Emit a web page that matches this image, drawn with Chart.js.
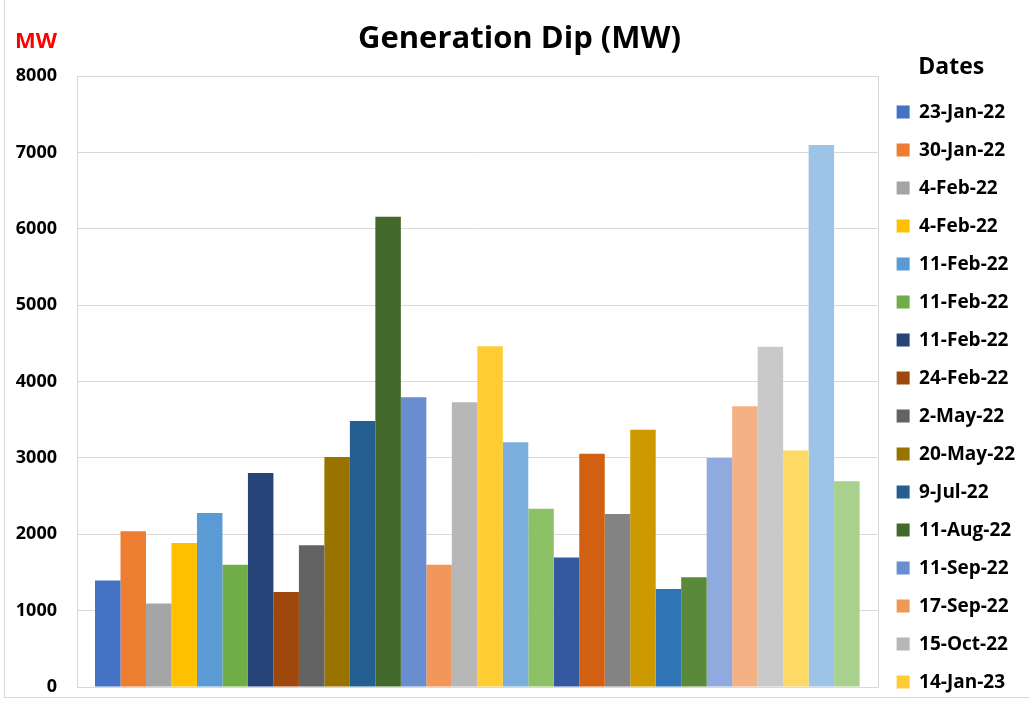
<!DOCTYPE html>
<html>
<head>
<meta charset="utf-8">
<script src="https://cdn.jsdelivr.net/npm/chart.js@4.4.1/dist/chart.umd.min.js"></script>
<style>
  html, body { margin: 0; padding: 0; background: #ffffff; }
  #wrap { position: relative; width: 1029px; height: 703px; }
  #c { display: block; }
  #frame { position: absolute; left: 4px; top: -2px; width: 1030px; height: 700px; border: 1px solid #d9d9d9; box-sizing: border-box; pointer-events: none; }
</style>
</head>
<body>
<div id="wrap">
  <canvas id="c" width="1029" height="703"></canvas>
  <div id="frame"></div>
</div>
<script>
// ---- data ----
const chartTitle = 'Generation Dip (MW)';
const unitLabel = 'MW';
const legendTitle = 'Dates';
const categories = [''];
// legend names that are legible in the reference (only the first 16 are shown there)
const seriesNames = [
  '23-Jan-22', '30-Jan-22', '4-Feb-22', '4-Feb-22', '11-Feb-22', '11-Feb-22',
  '11-Feb-22', '24-Feb-22', '2-May-22', '20-May-22', '9-Jul-22', '11-Aug-22',
  '11-Sep-22', '17-Sep-22', '15-Oct-22', '14-Jan-23'
];
const seriesValues = [
  1394, 2040, 1095, 1885, 2278, 1600, 2802, 1245, 1858, 3012,
  3485, 6160, 3794, 1600, 3728, 4463, 3204, 2334, 1696, 3056,
  2266, 3370, 1283, 1437, 2999, 3676, 4455, 3097, 7098, 2694
];
const seriesColors = [
  '#4472C4', '#ED7D31', '#A5A5A5', '#FFC000', '#5B9BD5', '#70AD47',
  '#264478', '#9E480E', '#636363', '#997300', '#255E91', '#43682B',
  '#698ED0', '#F1975A', '#B7B7B7', '#FFCD33', '#7CAFDD', '#8CC168',
  '#335AA1', '#D26012', '#848484', '#CC9A00', '#2F75B5', '#5A8A39',
  '#8FAADC', '#F4B183', '#C9C9C9', '#FFD966', '#9DC3E6', '#A9D18E'
];
const yTicks = [0, 1000, 2000, 3000, 4000, 5000, 6000, 7000, 8000];

const FONT = '"Open Sans", "Noto Sans", sans-serif';

const datasets = seriesValues.map((v, i) => ({
  label: seriesNames[i] !== undefined ? seriesNames[i] : '',
  data: [v],
  backgroundColor: seriesColors[i],
  borderWidth: 0,
  barPercentage: 1.0,
  categoryPercentage: 0.955
}));

const extras = {
  id: 'extras',
  afterInit(chart) {
    // keep the legend in a single column (the reference shows one column of 16 entries)
    const lg = chart.legend;
    if (lg && lg._fitCols && lg._draw) {
      const origFit = lg._fitCols;
      lg._fitCols = function (...args) {
        const mh = this.maxHeight;
        this.maxHeight = mh + 200;
        const r = origFit.apply(this, args);
        this.maxHeight = mh;
        return r;
      };
      const origDraw = lg._draw;
      lg._draw = function (...args) {
        const b = this.bottom;
        this.bottom = b + 200;
        try { origDraw.apply(this, args); } finally { this.bottom = b; }
      };
    }
  },
  beforeDatasetsDraw(chart) {
    const {ctx, chartArea: a} = chart;
    ctx.save();
    ctx.strokeStyle = '#d9d9d9';
    ctx.lineWidth = 1;
    ctx.strokeRect(Math.round(a.left) + 0.5, Math.round(a.top) + 0.5, Math.round(a.right - a.left), Math.round(a.bottom - a.top));
    ctx.restore();
  },
  afterDraw(chart) {
    const {ctx} = chart;
    ctx.save();
    ctx.fillStyle = '#FF0000';
    ctx.font = 'bold 22px ' + FONT;
    ctx.textAlign = 'center';
    ctx.textBaseline = 'middle';
    ctx.fillText(unitLabel, 36, 42);
    ctx.restore();
  }
};

new Chart(document.getElementById('c'), {
  type: 'bar',
  data: { labels: categories, datasets },
  plugins: [extras],
  options: {
    responsive: false,
    animation: false,
    layout: { padding: { left: 14, right: 4, top: 0, bottom: 0 } },
    plugins: {
      title: {
        display: true,
        text: chartTitle,
        color: '#000000',
        font: { family: FONT, size: 31, weight: 'bold' },
        padding: { top: 21, bottom: 18 }
      },
      legend: {
        display: true,
        position: 'right',
        align: 'start',
        title: {
          display: true,
          text: legendTitle,
          color: '#000000',
          font: { family: FONT, size: 23, weight: 'bold' },
          padding: { top: 56, bottom: 0 }
        },
        labels: {
          color: '#000000',
          font: { family: FONT, size: 19, weight: 'bold' },
          boxWidth: 13,
          boxHeight: 13,
          padding: 19,
          filter: (item) => item.text !== ''
        }
      },
      tooltip: { enabled: false }
    },
    scales: {
      x: {
        display: true,
        grid: { display: false },
        ticks: { display: false },
        border: { display: false },
        afterFit: (scale) => { scale.height = 16; }
      },
      y: {
        min: 0,
        max: 8000,
        afterBuildTicks: (axis) => { axis.ticks = yTicks.map(v => ({ value: v })); },
        afterFit: (scale) => { scale.width = 63; },
        ticks: {
          color: '#000000',
          font: { family: FONT, size: 18, weight: 'bold' },
          padding: 0,
          callback: (v) => String(v)
        },
        grid: { color: '#d9d9d9', drawTicks: true, tickLength: 20, tickColor: 'rgba(0,0,0,0)' },
        border: { display: true, color: '#d9d9d9' }
      }
    }
  }
});
</script>
</body>
</html>
